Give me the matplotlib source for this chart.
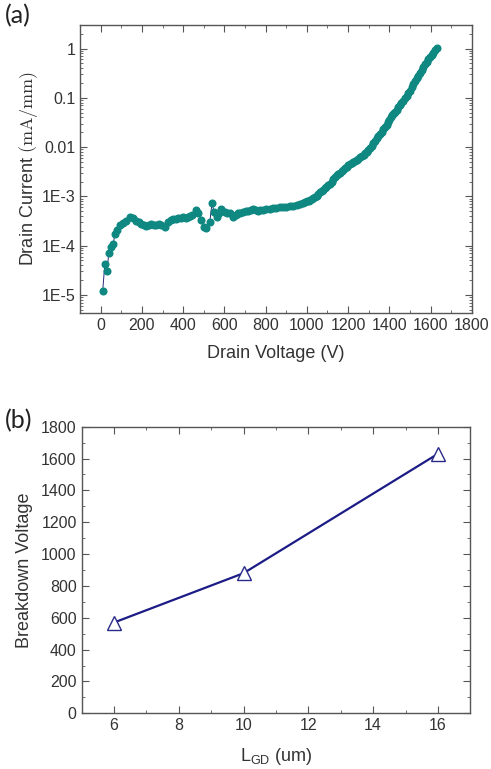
import matplotlib
matplotlib.use("Agg")
import matplotlib.pyplot as plt
from matplotlib.ticker import MultipleLocator, LogLocator, FixedLocator, FixedFormatter, NullFormatter

plt.rcParams['font.family'] = ['Liberation Sans', 'DejaVu Sans']

# (a) drain current vs drain voltage
drain_v = [10, 20, 30, 40, 52, 62, 68, 79, 92, 108, 125, 144, 157, 173, 185, 198,
           210, 222, 234, 246, 258, 270, 283, 295, 311, 327, 340, 351, 363, 375,
           388, 400, 412, 424, 435, 445, 460, 472, 489, 500, 513, 529, 540, 550,
           562, 575, 586, 602, 614, 626, 642, 654, 666, 678, 690, 703, 715, 727,
           739, 751, 763, 775, 787, 803, 820, 836, 852, 868, 885, 900, 917, 933,
           950, 966, 982, 990, 1000, 1008, 1015, 1023, 1031, 1039, 1047, 1055,
           1063, 1071, 1079, 1087, 1095, 1103, 1112, 1120, 1128, 1136, 1144, 1152,
           1160, 1168, 1176, 1185, 1193, 1201, 1210, 1217, 1225, 1233, 1241, 1250,
           1258, 1266, 1275, 1282, 1290, 1298, 1306, 1314, 1322, 1330, 1338, 1346,
           1355, 1363, 1371, 1379, 1387, 1394, 1400, 1406, 1411, 1417, 1423, 1429,
           1435, 1443, 1450, 1458, 1467, 1475, 1484, 1492, 1500, 1508, 1516, 1524,
           1532, 1540, 1548, 1556, 1565, 1573, 1581, 1589, 1597, 1605, 1613, 1621,
           1630]
drain_i = [1.2e-5, 4.2e-5, 3.0e-5, 7.2e-5, 9.5e-5, 1.1e-4, 1.7e-4, 2.1e-4, 2.6e-4,
           2.9e-4, 3.2e-4, 3.9e-4, 3.7e-4, 3.2e-4, 3.0e-4, 2.8e-4, 2.6e-4, 2.5e-4,
           2.6e-4, 2.7e-4, 2.6e-4, 2.6e-4, 2.7e-4, 2.6e-4, 2.4e-4, 3.0e-4, 3.3e-4,
           3.5e-4, 3.5e-4, 3.6e-4, 3.7e-4, 3.8e-4, 3.7e-4, 3.8e-4, 4.0e-4, 4.2e-4,
           5.3e-4, 4.5e-4, 3.3e-4, 2.4e-4, 2.3e-4, 3.0e-4, 7.2e-4, 4.9e-4, 3.8e-4,
           4.6e-4, 5.6e-4, 4.9e-4, 4.7e-4, 4.5e-4, 3.8e-4, 4.2e-4, 4.5e-4, 4.7e-4,
           4.9e-4, 5.0e-4, 5.1e-4, 5.3e-4, 5.6e-4, 5.2e-4, 5.0e-4, 5.2e-4, 5.4e-4,
           5.5e-4, 5.6e-4, 5.8e-4, 5.9e-4, 6.0e-4, 6.1e-4, 6.2e-4, 6.3e-4, 6.4e-4,
           6.6e-4, 7.0e-4, 7.4e-4, 7.6e-4, 7.9e-4, 8.1e-4, 8.4e-4, 8.8e-4, 9.3e-4,
           9.8e-4, 1.03e-3, 1.1e-3, 1.2e-3, 1.27e-3, 1.35e-3, 1.45e-3, 1.55e-3,
           1.68e-3, 1.8e-3, 2.0e-3, 2.2e-3, 2.45e-3, 2.7e-3, 2.8e-3, 3.0e-3, 3.2e-3,
           3.4e-3, 3.7e-3, 4.0e-3, 4.3e-3, 4.5e-3, 4.7e-3, 4.9e-3, 5.1e-3, 5.4e-3,
           5.8e-3, 6.2e-3, 6.6e-3, 7.0e-3, 7.5e-3, 8.0e-3, 8.7e-3, 9.5e-3, 1.07e-2,
           1.2e-2, 1.35e-2, 1.5e-2, 1.65e-2, 1.85e-2, 2.05e-2, 2.3e-2, 2.55e-2,
           2.8e-2, 3.2e-2, 3.6e-2, 4.0e-2, 4.4e-2, 4.6e-2, 4.8e-2, 5.2e-2, 5.6e-2,
           6.4e-2, 7.2e-2, 8.0e-2, 8.8e-2, 9.8e-2, 0.11, 0.125, 0.14, 0.165, 0.19,
           0.22, 0.25, 0.28, 0.32, 0.37, 0.42, 0.48, 0.54, 0.60, 0.66, 0.74, 0.82,
           0.92, 1.02]
y_ticks_a = [1e-5, 1e-4, 1e-3, 1e-2, 1e-1, 1]
y_ticklabels_a = ['1E-5', '1E-4', '1E-3', '0.01', '0.1', '1']

# (b) breakdown voltage vs gate-drain length
lgd = [6, 10, 16]
vbd = [570, 880, 1630]

ink = '#333333'
fig = plt.figure(figsize=(4.91, 7.69), dpi=100)

def style_axes(ax):
    for s in ax.spines.values():
        s.set_color('#555555')
        s.set_linewidth(1.0)
    ax.tick_params(which='both', direction='in', top=True, right=True,
                   colors='#555555', labelcolor=ink, labelsize=11.5)
    ax.tick_params(which='major', length=5)
    ax.tick_params(which='minor', length=2.5)

# panel (a)
ax1 = fig.add_axes([0.163, 0.593, 0.798, 0.3745])
ax1.plot(drain_v, drain_i, '-', color='#2a2a7a', lw=0.7, zorder=1)
ax1.plot(drain_v, drain_i, 'o', color='#0e8880', ms=4.8, mec='#0e8880', zorder=2)
ax1.set_yscale('log')
ax1.set_xlim(-100, 1800)
ax1.set_ylim(4.3e-6, 3)
ax1.xaxis.set_major_locator(MultipleLocator(200))
ax1.xaxis.set_minor_locator(MultipleLocator(100))
ax1.yaxis.set_major_locator(FixedLocator(y_ticks_a))
ax1.yaxis.set_major_formatter(FixedFormatter(y_ticklabels_a))
ax1.yaxis.set_minor_locator(LogLocator(base=10, subs=range(2, 10)))
ax1.yaxis.set_minor_formatter(NullFormatter())
style_axes(ax1)
ax1.set_xlabel('Drain Voltage (V)', fontsize=13, color=ink, labelpad=9)
ax1.set_ylabel(r'Drain Current $\mathrm{(mA/mm)}$', fontsize=13, color=ink,
               labelpad=1, math_fontfamily='cm')
fig.text(0.01, 0.995, '(a)', fontsize=18, color='#222222', va='top', ha='left',
         family=['Lato', 'DejaVu Sans'])

# panel (b)
ax2 = fig.add_axes([0.166, 0.0724, 0.792, 0.3727])
ax2.plot(lgd, vbd, '-^', color='#1c1c86', lw=1.6, ms=10, mfc='white',
         mec='#2a2a8a', mew=1.0)
ax2.set_xlim(5, 17)
ax2.set_ylim(0, 1800)
ax2.xaxis.set_major_locator(MultipleLocator(2))
ax2.xaxis.set_minor_locator(MultipleLocator(1))
ax2.yaxis.set_major_locator(MultipleLocator(200))
ax2.yaxis.set_minor_locator(MultipleLocator(100))
style_axes(ax2)
ax2.set_xlabel(r'L$_{\mathregular{GD}}$ (um)', fontsize=13, color=ink, labelpad=9)
ax2.set_ylabel('Breakdown Voltage', fontsize=13, color=ink, labelpad=6)
fig.text(0.01, 0.468, '(b)', fontsize=18, color='#222222', va='top', ha='left',
         family=['Lato', 'DejaVu Sans'])

fig.savefig('out.png', dpi=100)
